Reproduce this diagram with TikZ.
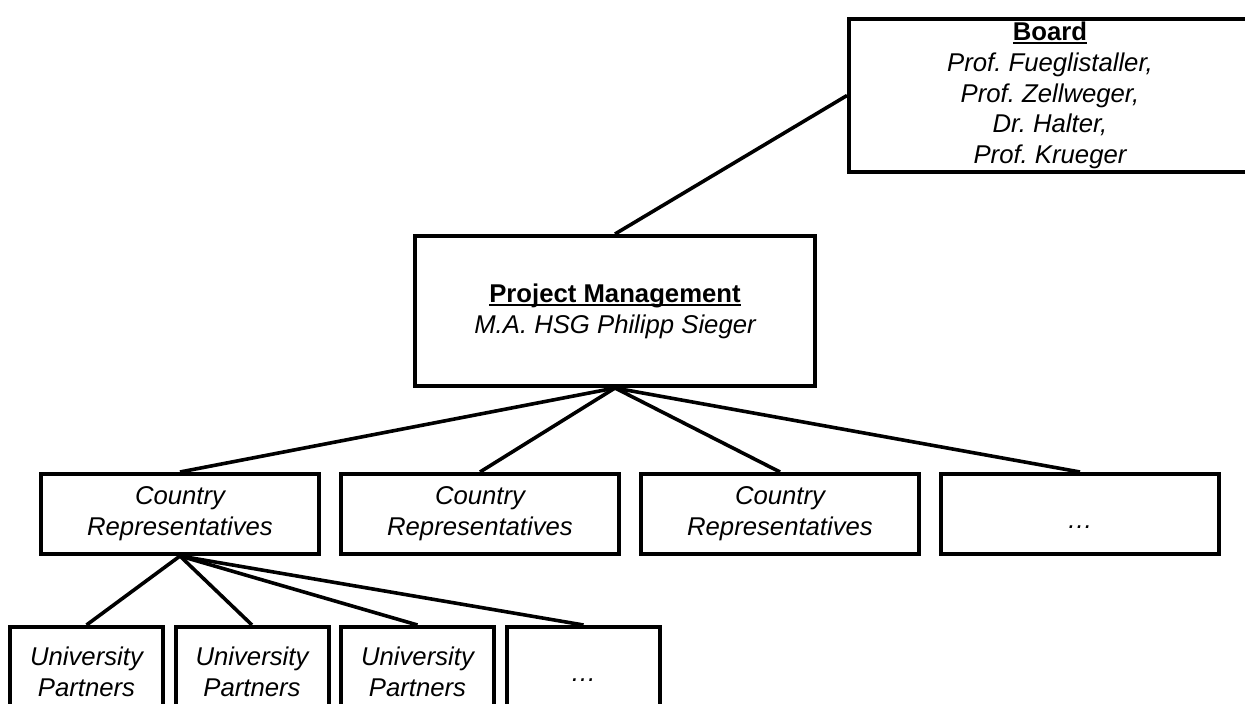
\documentclass[tikz,border=0pt]{standalone}
\usepackage{fontspec}
\setmainfont{Liberation Sans}
\newcommand{\myul}[1]{\setbox0\hbox{#1}\rlap{\rule[-3.5pt]{\wd0}{2pt}}\box0}
\newcommand{\mydots}[1]{\raisebox{-#1pt}[0pt][0pt]{…}}
\begin{document}
\frenchspacing
\begin{tikzpicture}[x=1pt,y=-1pt,
  box/.style={draw=black,line width=4pt,fill=white,inner sep=0pt,align=center,
    font=\fontsize{25.7}{30.8}\selectfont\itshape},
  conn/.style={draw=black,line width=3.6pt}]
\useasboundingbox (0,0) rectangle (1245,704);
\clip (0,0) rectangle (1245,704);
\node[box,minimum width=402pt,minimum height=153pt] (board) at (1050,95.5)
  {{\upshape\bfseries\myul{Board}}\\Prof. Fueglistaller,\\Prof. Zellweger,\\Dr. Halter,\\Prof. Krueger};
\node[box,minimum width=400pt,minimum height=150pt] (pm) at (615,311)
  {{\upshape\bfseries\myul{Project Management}}\\M.A. HSG Philipp Sieger};
\foreach \i/\x in {1/180,2/480,3/780}
  \node[box,minimum width=278pt,minimum height=80pt] (cr\i) at (\x,514) {Country\\Representatives};
\node[box,minimum width=278pt,minimum height=80pt] (cr4) at (1080,514) {\mydots{14}};
\foreach \i/\x in {1/86.5,2/252,3/417.5}
  \node[box,minimum width=153pt,minimum height=90pt] (u\i) at (\x,672) {University\\Partners};
\node[box,minimum width=153pt,minimum height=90pt] (u4) at (583.5,672) {\mydots{9}};
\draw[conn] (pm.north) -- (board.west);
\foreach \i in {1,2,3,4} \draw[conn] (pm.south) -- (cr\i.north);
\foreach \i in {1,2,3,4} \draw[conn] (cr1.south) -- (u\i.north);
\end{tikzpicture}
\end{document}
